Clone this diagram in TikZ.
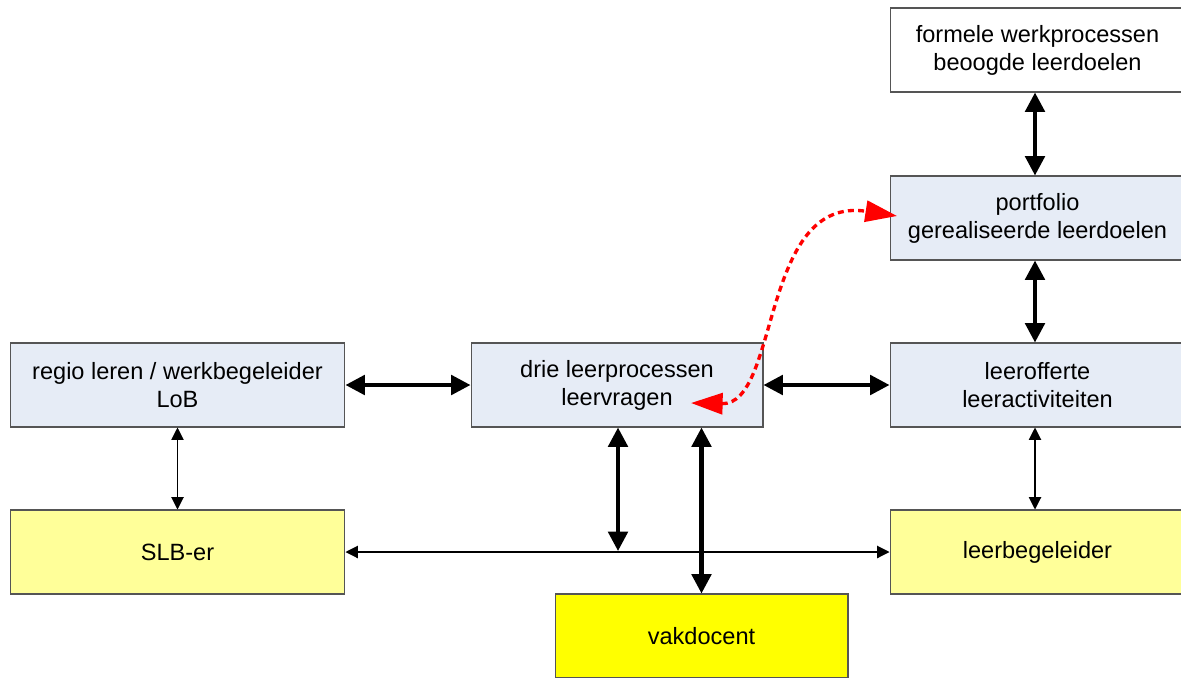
\documentclass[tikz,border=0pt]{standalone}
\usepackage{fontspec}
\setmainfont{Liberation Sans}
\usetikzlibrary{arrows.meta}

\definecolor{lichtblauw}{RGB}{230,236,246}
\definecolor{lichtgeel}{RGB}{255,255,153}
\definecolor{fel}{RGB}{255,255,0}
\definecolor{rand}{RGB}{85,85,85}

\tikzset{
  blok/.style={draw=rand, line width=0.6pt, align=center, inner sep=0pt,
    minimum width=5.8cm, minimum height=1.68cm,
    font=\fontsize{13.4}{16}\selectfont},
  dik/.style={line width=2.3pt, {Triangle[length=11pt,width=11pt]}-{Triangle[length=11pt,width=11pt]}},
  dun/.style={line width=0.6pt, {Triangle[length=7pt,width=7pt]}-{Triangle[length=7pt,width=7pt]}},
  rood/.style={red, line width=1.9pt, dash pattern=on 3.4pt off 2.4pt,
    {Triangle[length=18pt,width=12pt]}-{Triangle[length=18pt,width=12pt]}}
}

\begin{document}
\begin{tikzpicture}[x=0.02cm, y=-0.02cm]
  \useasboundingbox (0,0) rectangle (1181,677);
  \clip (0,0) rectangle (1181,677);

  \node[blok, fill=white, minimum width=5.9cm] (formeel) at (1037.5,50) {formele werkprocessen\\beoogde leerdoelen};
  \node[blok, fill=lichtblauw, minimum width=5.9cm] (portfolio) at (1037.5,218) {portfolio\\gerealiseerde leerdoelen};
  \node[blok, fill=lichtblauw, minimum width=5.9cm] (offerte) at (1037.5,385) {leerofferte\\leeractiviteiten};
  \node[blok, fill=lichtgeel, minimum width=5.9cm] (leerbeg) at (1037.5,552) {leerbegeleider};
  \node[blok, fill=lichtblauw, minimum width=5.84cm] (drie) at (617,385) {drie leerprocessen\\leervragen};
  \node[blok, fill=lichtblauw, minimum width=6.7cm] (regio) at (177.5,385) {regio leren / werkbegeleider\\LoB};
  \node[blok, fill=lichtgeel, minimum width=6.7cm] (slb) at (177.5,552) {SLB-er};
  \node[blok, fill=fel, minimum width=5.86cm] (vak) at (701.5,636) {vakdocent};

  \coordinate (kruis) at (618,551);
  \coordinate (lage) at (691,403);
  \coordinate (hoge) at (897,216);

  \draw[dik] (formeel.south -| 1035,0) -- (portfolio.north -| 1035,0);
  \draw[dik] (portfolio.south -| 1035,0) -- (offerte.north -| 1035,0);
  \draw[dik] (regio) -- (drie);
  \draw[dik] (drie) -- (offerte);
  \draw[dik] (drie.south -| kruis) -- (kruis);
  \draw[dik] (drie.south -| vak.north) -- (vak.north);

  \draw[dun] (regio) -- (slb);
  \draw[dun] (offerte.south -| 1035,0) -- (leerbeg.north -| 1035,0);
  \draw[dun] (slb) -- (leerbeg);

  \draw[rood] (lage) .. controls (780,405) and (760,195) .. (hoge);
\end{tikzpicture}
\end{document}
